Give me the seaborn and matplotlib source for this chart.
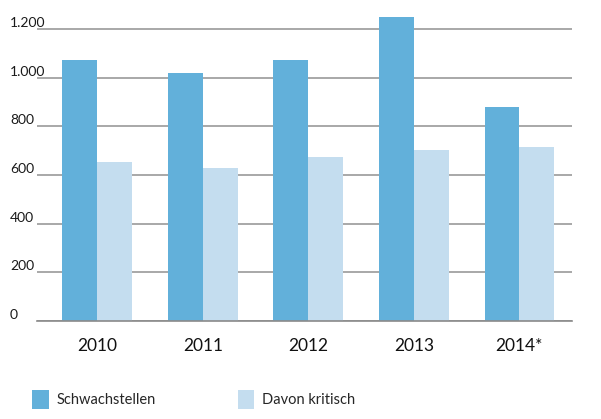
import pandas as pd
import seaborn as sns
from matplotlib import pyplot as plt
from matplotlib.ticker import FixedLocator

# data
years = ['2010', '2011', '2012', '2013', '2014*']
schwachstellen = [1073, 1019, 1073, 1249, 878]
kritisch = [655, 629, 674, 703, 715]
series_names = ['Schwachstellen', 'Davon kritisch']
y_ticks = [0, 200, 400, 600, 800, 1000, 1200]
y_tick_labels = ['0', '200', '400', '600', '800', '1.000', '1.200']

COLORS = ['#62b0da', '#c4ddef']

df = pd.DataFrame({
    'year': years * 2,
    'value': schwachstellen + kritisch,
    'series': [series_names[0]] * len(years) + [series_names[1]] * len(years),
})

sns.set_style('white')
plt.rcParams['font.family'] = ['Lato', 'DejaVu Sans']

fig = plt.figure(figsize=(6.01, 4.19), dpi=100)
ax = fig.add_axes([0.0616, 0.2339, 0.8904, 0.7317])

sns.barplot(data=df, x='year', y='value', hue='series', palette=COLORS,
            width=0.66, saturation=1, linewidth=0, edgecolor='none', ax=ax)

ax.set_xlim(-0.57, 4.5)
ax.set_ylim(0, 1260)
ax.set_xlabel('')
ax.set_ylabel('')

# gridlines behind bars
ax.set_axisbelow(True)
ax.yaxis.grid(True, color='#9a9a9a', linewidth=1.2)
for side in ['top', 'right', 'left']:
    ax.spines[side].set_visible(False)
ax.spines['bottom'].set_color('#8a8a8a')
ax.spines['bottom'].set_linewidth(1.2)

# y labels sit left, just above each gridline
ax.yaxis.set_major_locator(FixedLocator(y_ticks))
ax.set_yticklabels(y_tick_labels)
ax.tick_params(axis='y', length=0, pad=19.5, labelsize=10, colors='#1a1a1a')
for lbl in ax.get_yticklabels():
    lbl.set_horizontalalignment('left')
    lbl.set_verticalalignment('bottom')

ax.tick_params(axis='x', length=0, pad=12, labelsize=12.5, colors='#111111')

handles, labels = ax.get_legend_handles_labels()
ax.legend(handles, labels, ncol=2, frameon=False, loc='upper left',
          bbox_to_anchor=(32 / 601, 0.069), bbox_transform=fig.transFigure,
          borderpad=0, borderaxespad=0, handlelength=1.15, handleheight=1.6,
          handletextpad=0.55, columnspacing=5.6, fontsize=10.5)

fig.savefig('out.png', dpi=100)
